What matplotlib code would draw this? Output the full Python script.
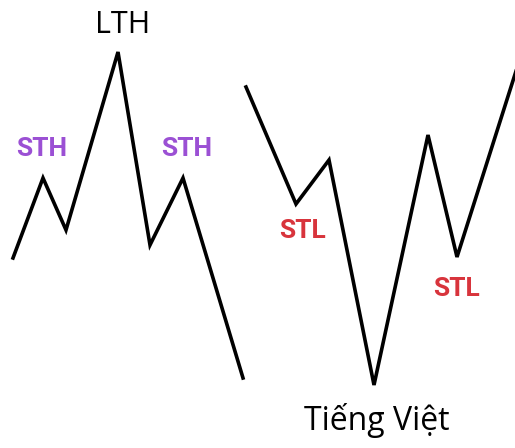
import matplotlib.pyplot as plt

# Left swing (highs): pixel-space points
left_x = [13, 43, 66, 118, 150, 183, 243]
left_y = [258, 178, 230, 52, 245, 178, 378]

# Right swing (lows)
right_x = [246, 296, 329, 374, 428, 457, 517]
right_y = [87, 204, 160, 385, 135, 257, 68]

# Labels: text, x, y, colour, size, weight
labels = [
    ("LTH", 123, 25, "black", 22, "normal"),
    ("STH", 42, 149, "#9b50d4", 19, "bold"),
    ("STH", 187, 149, "#9b50d4", 19, "bold"),
    ("STL", 302, 231, "#d8343c", 19, "bold"),
    ("STL", 456, 289, "#d8343c", 19, "bold"),
    ("Tiếng Việt", 377, 421, "black", 23, "normal"),
]

fig = plt.figure(figsize=(5.15, 4.48), dpi=100)
ax = fig.add_axes([0, 0, 1, 1])
ax.set_xlim(0, 515)
ax.set_ylim(448, 0)
ax.axis('off')

ax.plot(left_x, left_y, color='black', lw=2.6, solid_joinstyle='miter')
ax.plot(right_x, right_y, color='black', lw=2.6, solid_joinstyle='miter')

for txt, x, y, c, s, w in labels:
    fam = ['Roboto', 'DejaVu Sans'] if w == 'bold' else ['Open Sans', 'DejaVu Sans']
    ax.text(x, y, txt, color=c, fontsize=s, fontweight=w, family=fam,
            ha='center', va='center')

fig.savefig('out.png', dpi=100)
